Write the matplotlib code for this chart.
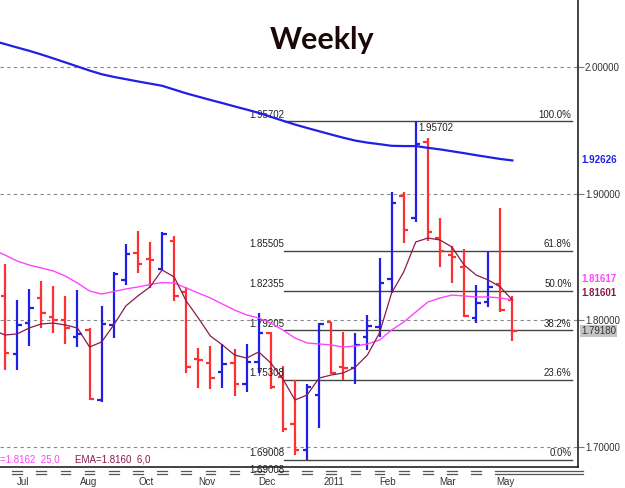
import numpy as np
import matplotlib
matplotlib.use("Agg")
import matplotlib.pyplot as plt
import matplotlib.transforms as mtransforms

plt.rcParams["font.family"] = ["Liberation Sans", "DejaVu Sans"]

# weekly GBP/USD style bars, Jul 2010 - May 2011
opens = [1.8193, 1.7735, 1.7977, 1.8174, 1.8029, 1.8003, 1.7871, 1.7924, 1.7372, 1.7960,
         1.8319, 1.8530, 1.8485, 1.8403, 1.8629, 1.8227, 1.7695, 1.7661, 1.7590, 1.7661,
         1.7498, 1.7674, 1.7903, 1.7553, 1.7182, 1.6977, 1.7411, 1.7985, 1.7635, 1.7622,
         1.7869, 1.7950, 1.8324, 1.8982, 1.8806, 1.9406, 1.8648, 1.8516, 1.8424, 1.8017,
         1.8148, 1.8287, 1.8161]
highs = [1.8443, 1.8161, 1.8245, 1.8311, 1.8272, 1.8193, 1.8240, 1.7938, 1.8114, 1.8384,
         1.8603, 1.8708, 1.8621, 1.8695, 1.8669, 1.8266, 1.7782, 1.7798, 1.7811, 1.7772,
         1.7811, 1.8056, 1.7911, 1.7640, 1.7530, 1.7496, 1.7977, 1.7990, 1.7911, 1.7898,
         1.8043, 1.8490, 1.9011, 1.9017, 1.95702, 1.9437, 1.8806, 1.8587, 1.8561, 1.8283,
         1.8542, 1.8885, 1.8189]
lows = [1.7609, 1.7609, 1.7798, 1.7942, 1.7898, 1.7811, 1.7790, 1.7372, 1.7358, 1.7859,
        1.8279, 1.8376, 1.8253, 1.8398, 1.8153, 1.7587, 1.7464, 1.7456, 1.7464, 1.7406,
        1.7433, 1.7582, 1.7459, 1.7119, 1.6938, 1.69008, 1.7148, 1.7575, 1.7530, 1.7496,
        1.7766, 1.7871, 1.8214, 1.8607, 1.8779, 1.8629, 1.8419, 1.8293, 1.8029, 1.7977,
        1.8106, 1.8069, 1.7840]
closes = [1.7740, 1.7964, 1.8100, 1.8061, 1.8003, 1.7942, 1.7893, 1.7380, 1.7969, 1.8366,
          1.8524, 1.8443, 1.8477, 1.8682, 1.8193, 1.7635, 1.7687, 1.7543, 1.7656, 1.7498,
          1.7674, 1.7898, 1.7474, 1.7143, 1.6977, 1.7474, 1.7972, 1.7582, 1.7622, 1.7802,
          1.7956, 1.8293, 1.8929, 1.8710, 1.9390, 1.8700, 1.8550, 1.8500, 1.8032, 1.8140,
          1.8266, 1.8084, 1.7918]

# moving averages, one value per week starting one week before the first bar
ma_long = [2.0208, 2.0181, 2.0154, 2.0128, 2.0099, 2.0068, 2.0036, 2.0004, 1.9972, 1.9943,
           1.9922, 1.9904, 1.9886, 1.9869, 1.9852, 1.9822, 1.9792, 1.9766, 1.9740, 1.9715,
           1.9689, 1.9664, 1.9638, 1.9607, 1.9576, 1.9546, 1.9519, 1.9493, 1.9467, 1.9442,
           1.9419, 1.9403, 1.9391, 1.9378, 1.9376, 1.9376, 1.9362, 1.9350, 1.9335, 1.9320,
           1.9304, 1.9289, 1.9274, 1.92626]
sma25 = [1.8556, 1.8516, 1.8469, 1.8437, 1.8414, 1.8390, 1.8350, 1.8295, 1.8232, 1.8208,
         1.8228, 1.8248, 1.8264, 1.8283, 1.8299, 1.8295, 1.8256, 1.8216, 1.8177, 1.8129,
         1.8082, 1.8043, 1.8019, 1.7979, 1.7924, 1.7861, 1.7822, 1.7814, 1.7806, 1.7790,
         1.7798, 1.7814, 1.7845, 1.7924, 1.7987, 1.8066, 1.8145, 1.8177, 1.8200, 1.8193,
         1.8185, 1.8185, 1.8177, 1.81617]
ema6 = [1.7924, 1.7885, 1.7893, 1.7940, 1.7972, 1.7979, 1.7964, 1.7940, 1.7790, 1.7830,
        1.7964, 1.8114, 1.8193, 1.8264, 1.8398, 1.8343, 1.8153, 1.8019, 1.7877, 1.7806,
        1.7727, 1.7703, 1.7751, 1.7664, 1.7538, 1.7372, 1.7411, 1.7545, 1.7569, 1.7585,
        1.7632, 1.7727, 1.7901, 1.8216, 1.8382, 1.8619, 1.8650, 1.8635, 1.8579, 1.8437,
        1.8358, 1.8319, 1.8264, 1.81601]

fib_levels = [1.95702, 1.85505, 1.82355, 1.79205, 1.75308, 1.69008]
fib_names = ["100.0%", "61.8%", "50.0%", "38.2%", "23.6%", "0.0%"]

month_labels = ["Jul", "Aug", "Oct", "Nov", "Dec", "2011", "Feb", "Mar", "May"]
month_pos = [1.5, 6.9, 11.7, 16.7, 21.7, 27.2, 31.7, 36.6, 41.4]
price_ticks = [1.7, 1.8, 1.9, 2.0]

RED = "#ff3030"
BLUE = "#1f1fe8"
MAG = "#ff44ff"
MAROON = "#8b1a4a"

fig = plt.figure(figsize=(6.25, 4.88), dpi=100)
ax = fig.add_axes([0, 0.043, 0.9248, 0.957])
ax.set_xlim(-0.414, 47.43)
ax.set_ylim(1.68429, 2.05288)

# grid
for lv in price_ticks:
    ax.axhline(lv, color="#888888", lw=0.8, ls=(0, (3, 3)), zorder=0)

# fibonacci retracement
fib_x0, fib_x1 = 23.1, 46.9
for lv, nm in zip(fib_levels, fib_names):
    ax.plot([fib_x0, fib_x1], [lv, lv], color="#444444", lw=1.0, zorder=1)
    ax.annotate(f"{lv:.5f}", (fib_x0, lv), xytext=(0, 4.8), textcoords="offset points",
                ha="right", va="center", fontsize=7, color="#222222")
    ax.annotate(nm, (fib_x1, lv), xytext=(0, 4.8), textcoords="offset points",
                ha="right", va="center", fontsize=7, color="#222222")
ax.annotate(f"{fib_levels[0]:.5f}", (34, fib_levels[0]), xytext=(1.5, -5),
            textcoords="offset points", ha="left", va="center", fontsize=7, color="#222222")
low_lbl = ax.annotate(f"{fib_levels[-1]:.5f}", (fib_x0, fib_levels[-1]), xytext=(0, -7.5),
                      textcoords="offset points", ha="right", va="center", fontsize=7,
                      color="#222222")
low_lbl.set_clip_on(True)

# moving averages
xm = np.arange(-1, len(closes))
ax.plot(xm, ma_long, color=BLUE, lw=1.6, zorder=3)
ax.plot(xm, sma25, color=MAG, lw=1, zorder=3)
ax.plot(xm, ema6, color=MAROON, lw=0.9, zorder=3)

# OHLC bars
tw = 0.37
for i in range(len(closes)):
    c = BLUE if closes[i] >= opens[i] else RED
    ax.plot([i, i], [lows[i], highs[i]], color=c, lw=1.6, solid_capstyle="butt", zorder=2)
    ax.plot([i - tw, i], [opens[i], opens[i]], color=c, lw=1.6, solid_capstyle="butt", zorder=2)
    ax.plot([i, i + tw], [closes[i], closes[i]], color=c, lw=1.6, solid_capstyle="butt", zorder=2)

# title
ax.text(0.557, 0.914, "Weekly", transform=ax.transAxes, ha="center", va="center",
        fontsize=22, fontweight="bold", family="Lato", color="#1a0808")

# indicator legend
ax.text(0.0, 0.016, "=1.8162  25,0", transform=ax.transAxes, fontsize=7, color=MAG,
        ha="left", va="center")
ax.text(0.13, 0.016, "EMA=1.8160  6,0", transform=ax.transAxes, fontsize=7, color=MAROON,
        ha="left", va="center")

# axes styling
for s in ["top", "left"]:
    ax.spines[s].set_visible(False)
for s in ["right", "bottom"]:
    ax.spines[s].set_color("#222222")
    ax.spines[s].set_linewidth(1.2)
ax.yaxis.tick_right()
ax.set_yticks(price_ticks)
ax.set_yticklabels([f"{v:.5f}" for v in price_ticks])
ax.tick_params(axis="y", length=4, width=0.8, color="#777777", labelsize=7,
               labelcolor="#333333", pad=1)
ax.set_xticks(month_pos)
ax.set_xticklabels(month_labels)
ax.tick_params(axis="x", length=0, labelsize=7, labelcolor="#333333", pad=7)

# last-value labels on the price scale
tr = mtransforms.blended_transform_factory(ax.transAxes, ax.transData)
ax.text(1.005, ma_long[-1], f"{ma_long[-1]:.5f}", transform=tr, color=BLUE, fontsize=7,
        fontweight="bold", va="center", ha="left")
ax.text(1.005, 1.8327, f"{sma25[-1]:.5f}", transform=tr, color=MAG, fontsize=7,
        fontweight="bold", va="center", ha="left")
ax.text(1.005, 1.8216, f"{ema6[-1]:.5f}", transform=tr, color=MAROON, fontsize=7,
        fontweight="bold", va="center", ha="left")
ax.text(1.005, closes[-1], f"{closes[-1]:.5f}", transform=tr, color="#333333", fontsize=7,
        va="center", ha="left",
        bbox=dict(boxstyle="square,pad=0.1", fc="#c4c4c4", ec="none"))

# double-dash time markers under the axis
trx = mtransforms.blended_transform_factory(ax.transData, ax.transAxes)
for i in range(1, 41, 2):
    for yy in (-0.0075, -0.0140):
        ax.plot([i - 0.4, i + 0.4], [yy, yy], color="#555555", lw=0.9, transform=trx,
                clip_on=False)
for yy in (-0.0075, -0.0140):
    ax.plot([40.6, 47.85], [yy, yy], color="#555555", lw=0.9, transform=trx, clip_on=False)

fig.savefig("out.png", dpi=100)
